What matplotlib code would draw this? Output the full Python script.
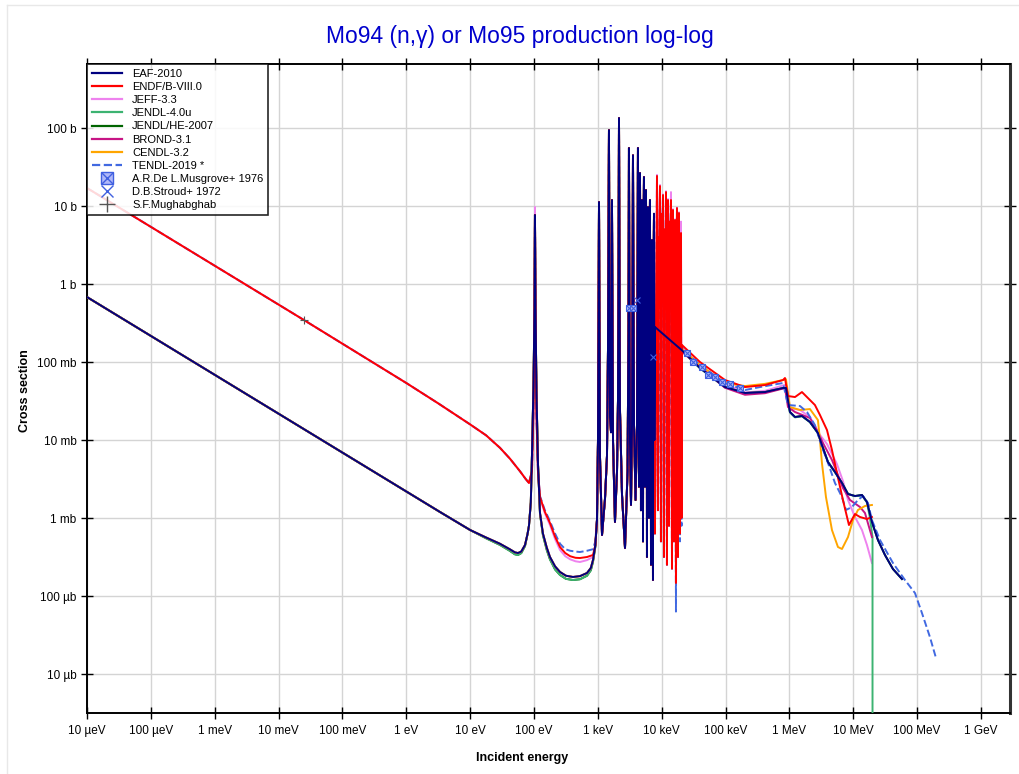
import numpy as np
import matplotlib.pyplot as plt
from matplotlib.lines import Line2D
from matplotlib.legend_handler import HandlerTuple
from matplotlib.ticker import FixedLocator, NullLocator

plt.rcParams['font.family'] = ['Liberation Sans', 'DejaVu Sans']

# values as (log10 E[eV], log10 sigma[b])

# thermal + 100 eV resonance
red_low = [(-5.0, 1.231), (-1.602, -0.462), (0.0, -1.269), (0.5, -1.53), (1.0, -1.80),
           (1.25, -1.94), (1.467, -2.10), (1.624, -2.24), (1.780, -2.40), (1.87, -2.50),
           (1.921, -2.551), (1.968, -2.40), (1.992, -1.6),
           (2.008, -0.3), (2.015, 0.885), (2.023, -0.3), (2.039, -1.7), (2.062, -2.4),
           (2.094, -2.731), (2.17, -2.92), (2.250, -3.064), (2.33, -3.24), (2.407, -3.372),
           (2.49, -3.45), (2.567, -3.49), (2.650, -3.51), (2.720, -3.513),
           (2.830, -3.50), (2.924, -3.474), (2.96, -3.35), (2.986, -3.026)]
jeff_low = [(-5.0, 1.231), (-1.602, -0.462), (0.0, -1.269), (0.5, -1.53), (1.0, -1.80),
            (1.25, -1.94), (1.467, -2.10), (1.624, -2.24), (1.780, -2.40), (1.87, -2.50),
            (1.921, -2.551), (1.968, -2.40), (1.992, -1.6),
            (2.008, -0.3), (2.015, 0.987), (2.023, -0.3), (2.039, -1.7), (2.062, -2.4),
            (2.094, -2.75), (2.17, -2.94), (2.250, -3.09), (2.33, -3.27), (2.407, -3.41),
            (2.49, -3.49), (2.567, -3.53), (2.650, -3.555), (2.720, -3.564),
            (2.830, -3.54), (2.924, -3.50), (2.96, -3.37), (2.986, -3.026)]
tendl_low = [(-5.0, 1.231), (-1.602, -0.462), (0.0, -1.269), (0.5, -1.53), (1.0, -1.80),
             (1.25, -1.94), (1.467, -2.10), (1.624, -2.24), (1.780, -2.40), (1.87, -2.50),
             (1.921, -2.551), (1.968, -2.40), (1.992, -1.6),
             (2.008, -0.3), (2.015, 0.885), (2.023, -0.3), (2.039, -1.7), (2.062, -2.4),
             (2.094, -2.72), (2.17, -2.90), (2.250, -3.04), (2.33, -3.20), (2.407, -3.33),
             (2.49, -3.40), (2.567, -3.42), (2.650, -3.43), (2.720, -3.436),
             (2.830, -3.42), (2.924, -3.40), (2.96, -3.30), (2.986, -3.026)]
navy_low = [(-5.0, -0.167), (0.528, -2.923), (1.0, -3.154), (1.25, -3.25), (1.467, -3.33),
            (1.62, -3.40), (1.70, -3.44), (1.749, -3.449), (1.80, -3.43), (1.859, -3.346),
            (1.90, -3.2), (1.921, -3.1), (1.950, -2.8), (1.968, -2.2), (1.992, -1.3),
            (2.008, -0.3), (2.015, 0.885), (2.023, -0.3), (2.039, -1.4), (2.062, -2.3),
            (2.094, -2.936), (2.14, -3.2), (2.20, -3.38), (2.250, -3.500), (2.33, -3.62),
            (2.407, -3.692), (2.50, -3.74), (2.610, -3.756), (2.72, -3.745), (2.830, -3.705),
            (2.89, -3.64), (2.924, -3.538), (2.96, -3.35), (2.986, -3.026)]
jendl_low = [(-5.0, -0.167), (0.528, -2.923), (1.0, -3.154), (1.25, -3.26), (1.467, -3.345),
             (1.62, -3.42), (1.70, -3.465), (1.749, -3.474), (1.80, -3.45), (1.859, -3.36),
             (1.90, -3.2), (1.921, -3.1), (1.950, -2.8), (1.968, -2.2), (1.992, -1.3),
             (2.008, -0.3), (2.015, 0.885), (2.023, -0.3), (2.039, -1.4), (2.062, -2.3),
             (2.094, -2.95), (2.14, -3.22), (2.20, -3.41), (2.250, -3.53), (2.33, -3.66),
             (2.407, -3.73), (2.50, -3.78), (2.610, -3.795), (2.72, -3.785), (2.830, -3.74),
             (2.89, -3.67), (2.924, -3.56), (2.96, -3.37), (2.986, -3.026)]

# resolved resonances 1 - 8 keV
res_kev = [(3.002, -2.0), (3.010, -0.5), (3.018, 1.051), (3.025, -0.5), (3.033, -2.2),
           (3.065, -3.218), (3.112, -2.75), (3.143, -2.2), (3.159, -0.8), (3.174, 1.974),
           (3.182, -0.3), (3.190, -1.7), (3.206, -1.9), (3.214, -0.5), (3.221, 1.077),
           (3.229, -0.5), (3.237, -2.0), (3.268, -3.051), (3.300, -2.4), (3.315, -1.5),
           (3.323, 0.0), (3.331, 2.128), (3.339, 0.0), (3.346, -1.6), (3.378, -2.7),
           (3.425, -3.385), (3.465, -2.4), (3.480, -0.5), (3.487, 1.744), (3.495, -0.5),
           (3.503, -2.0), (3.519, -2.833), (3.535, -1.8), (3.543, 0.0), (3.550, 1.65),
           (3.558, 0.0), (3.566, -1.8), (3.590, -2.769), (3.613, -1.8), (3.621, 0.0),
           (3.628, 1.744), (3.636, -0.5), (3.644, -2.6), (3.648, 0.2), (3.652, -1.5),
           (3.656, 0.8), (3.660, 1.423), (3.664, -0.5), (3.668, -2.0), (3.672, 0.5),
           (3.675, -2.9), (3.679, 0.0), (3.683, -1.0), (3.687, 0.6), (3.691, 1.077),
           (3.695, -0.8), (3.699, -2.2), (3.703, 0.3), (3.707, -3.3), (3.711, 0.4),
           (3.714, -1.0), (3.718, 0.9), (3.722, 1.372), (3.726, -0.5), (3.730, -2.0),
           (3.734, 0.6), (3.738, -2.6), (3.742, 0.2), (3.746, -1.2), (3.750, 0.7),
           (3.754, 1.205), (3.758, -0.7), (3.762, -2.3), (3.766, 0.4), (3.769, -3.5),
           (3.773, 0.1), (3.777, -1.0), (3.781, 0.6), (3.785, 0.987), (3.789, -0.6),
           (3.793, -2.4), (3.797, 0.3), (3.801, -3.0), (3.805, 0.2), (3.808, -1.1),
           (3.812, 0.6), (3.816, 1.077), (3.820, -0.5), (3.824, -2.5), (3.828, 0.0),
           (3.832, -3.6), (3.836, -0.2), (3.840, -1.5), (3.844, 0.2), (3.848, 0.564),
           (3.851, -1.0), (3.855, -2.5), (3.859, -0.5), (3.863, -3.795), (3.867, -0.5),
           (3.871, -1.8), (3.875, 0.4), (3.879, 0.9), (3.883, -0.5), (3.886, -2.0)]

# 8 - 20 keV resonances (ENDF, JEFF, TENDL)
endf_res = [(3.894, -3.2), (3.918, 0.2), (3.926, 1.385), (3.933, -0.5), (3.941, -2.9),
            (3.949, 0.6), (3.957, -0.3), (3.965, 0.8), (3.973, 1.256), (3.980, -1.0),
            (3.988, -3.3), (3.996, 0.9), (4.004, 0.436), (4.012, 0.6), (4.020, 1.141),
            (4.027, -1.2), (4.035, -3.5), (4.043, 0.7), (4.051, -0.3), (4.059, 0.5),
            (4.067, 1.179), (4.074, -1.0), (4.082, -3.6), (4.090, 0.5), (4.098, 1.077),
            (4.106, -0.6), (4.114, -3.1), (4.122, 0.8), (4.129, 0.308), (4.137, 0.6),
            (4.145, 1.077), (4.153, -1.0), (4.161, -3.65), (4.169, 0.4), (4.176, 0.949),
            (4.184, -0.8), (4.192, -3.3), (4.200, 0.5), (4.208, 0.821), (4.216, -1.2),
            (4.223, -3.833), (4.231, 0.3), (4.239, 0.974), (4.247, -0.9), (4.255, -3.5),
            (4.262, 0.4), (4.270, 0.910), (4.278, -1.0), (4.286, -3.2), (4.294, 0.2),
            (4.302, 0.654), (4.310, -3.0)]
jeff_res = [(3.894, -3.2), (3.918, 0.2), (3.926, 1.40), (3.933, -0.5), (3.941, -2.9),
            (3.949, 0.6), (3.957, -0.3), (3.965, 0.8), (3.973, 1.27), (3.980, -1.0),
            (3.988, -3.3), (3.996, 0.9), (4.004, 0.436), (4.012, 0.6), (4.020, 1.15),
            (4.027, -1.2), (4.035, -3.5), (4.043, 0.7), (4.051, -0.3), (4.059, 0.5),
            (4.067, 1.19), (4.074, -1.0), (4.082, -3.6), (4.090, 0.5), (4.098, 1.09),
            (4.106, -0.6), (4.114, -3.1), (4.122, 0.8), (4.129, 0.308), (4.137, 0.6),
            (4.145, 1.179), (4.153, -1.0), (4.161, -3.65), (4.169, 0.4), (4.176, 0.96),
            (4.184, -0.8), (4.192, -3.3), (4.200, 0.5), (4.208, 0.83), (4.216, -1.2),
            (4.223, -3.85), (4.231, 0.3), (4.239, 0.98), (4.247, -0.9), (4.255, -3.5),
            (4.262, 0.4), (4.270, 0.92), (4.278, -1.0), (4.286, -3.2), (4.294, 0.2),
            (4.302, 0.80), (4.310, -3.0)]
tendl_res = [(3.894, -3.2), (3.926, 1.38), (3.941, -2.9), (3.957, -0.3), (3.973, 1.25),
             (3.988, -3.3), (4.004, 0.436), (4.020, 1.14), (4.035, -3.5), (4.051, -0.3),
             (4.067, 1.17), (4.082, -3.6), (4.098, 1.07), (4.114, -3.1), (4.129, 0.308),
             (4.145, 1.07), (4.161, -3.65), (4.176, 0.94), (4.192, -3.3), (4.208, 0.81),
             (4.223, -4.2), (4.239, 0.96), (4.255, -3.5), (4.270, 0.90), (4.286, -3.3),
             (4.302, -0.3), (4.310, -3.1)]

# fast region
eaf_fast = [(3.894, -0.551), (4.317, -0.85), (4.599, -1.077), (4.991, -1.321), (5.304, -1.397),
            (5.617, -1.385), (5.899, -1.333), (5.946, -1.333), (6.008, -1.641), (6.087, -1.705),
            (6.196, -1.692), (6.321, -1.769), (6.446, -1.910), (6.509, -2.064), (6.603, -2.282),
            (6.713, -2.410), (6.823, -2.551), (6.917, -2.692), (7.026, -2.718), (7.136, -2.705),
            (7.214, -2.795), (7.292, -3.051), (7.386, -3.282), (7.496, -3.474), (7.621, -3.654),
            (7.762, -3.782)]
endf_fast = [(4.317, -0.782), (4.599, -1.0), (4.991, -1.231), (5.304, -1.321), (5.617, -1.295),
             (5.899, -1.231), (5.930, -1.205), (5.977, -1.436), (6.087, -1.449), (6.196, -1.385),
             (6.321, -1.487), (6.399, -1.551), (6.478, -1.679), (6.588, -1.872), (6.666, -2.128),
             (6.744, -2.423), (6.838, -2.769), (6.932, -3.090), (7.026, -2.949), (7.105, -2.987),
             (7.214, -3.013), (7.292, -2.987)]
jeff_fast = [(4.317, -0.80), (4.599, -1.05), (4.991, -1.28), (5.304, -1.39), (5.617, -1.37),
             (5.899, -1.30), (5.946, -1.29), (6.008, -1.590), (6.165, -1.615), (6.321, -1.705),
             (6.478, -1.936), (6.588, -2.051), (6.744, -2.308), (6.838, -2.526), (6.917, -2.769),
             (7.026, -2.987), (7.136, -3.154), (7.214, -3.346), (7.292, -3.577)]
tendl_fast = [(4.317, -0.82), (4.599, -1.038), (4.991, -1.27), (5.304, -1.359), (5.539, -1.321),
              (5.899, -1.269), (5.977, -1.551), (6.165, -1.564), (6.275, -1.641), (6.399, -1.808),
              (6.509, -2.090), (6.588, -2.256), (6.713, -2.551), (6.823, -2.731), (6.885, -2.897),
              (6.979, -2.859), (7.073, -2.769), (7.152, -2.718), (7.230, -2.808), (7.292, -3.026),
              (7.418, -3.282), (7.621, -3.577), (7.809, -3.795), (7.966, -3.962), (8.075, -4.218),
              (8.200, -4.526), (8.295, -4.795)]
jendl_fast = [(3.894, -0.56), (4.317, -0.86), (4.599, -1.08), (4.991, -1.325), (5.304, -1.40),
              (5.617, -1.39), (5.899, -1.335), (5.946, -1.335), (6.008, -1.645), (6.087, -1.71),
              (6.196, -1.695), (6.321, -1.77), (6.446, -1.91), (6.509, -2.064), (6.603, -2.282),
              (6.713, -2.41), (6.823, -2.551), (6.917, -2.692), (7.026, -2.72), (7.136, -2.71),
              (7.214, -2.80), (7.261, -3.0), (7.301, -3.244), (7.3011, -12.0)]
jendlhe_fast = eaf_fast
brond_fast = [(3.894, -0.56), (4.317, -0.87), (4.599, -1.06), (4.991, -1.33), (5.304, -1.42),
              (5.617, -1.40), (5.930, -1.333), (5.977, -1.577), (6.087, -1.641), (6.321, -1.718),
              (6.430, -1.872), (6.525, -2.038), (6.666, -2.256), (6.760, -2.449), (6.838, -2.615),
              (6.948, -2.769), (7.105, -2.859), (7.183, -2.936), (7.261, -3.154), (7.292, -3.244)]
cendl_fast = [(3.894, -0.55), (4.317, -0.83), (4.599, -1.038), (4.991, -1.27), (5.304, -1.308),
              (5.617, -1.28), (5.899, -1.231), (5.946, -1.22), (6.008, -1.577), (6.165, -1.615),
              (6.321, -1.603), (6.446, -1.744), (6.478, -2.0), (6.509, -2.295), (6.572, -2.731),
              (6.666, -3.154), (6.760, -3.372), (6.823, -3.397), (6.917, -3.244), (6.995, -3.026),
              (7.073, -2.897), (7.183, -2.846), (7.292, -2.833)]

# experimental points
musgrove = [(3.487, -0.308), (3.550, -0.308), (4.395, -0.885), (4.489, -1.0), (4.629, -1.064),
            (4.724, -1.167), (4.834, -1.192), (4.943, -1.256), (5.069, -1.282), (5.225, -1.333)]
stroud = [(3.613, -0.205), (3.863, -0.936)]
mughabghab = [(-1.602, -0.462)]

xtick_labels = ['10 µeV', '100 µeV', '1 meV', '10 meV', '100 meV', '1 eV', '10 eV', '100 eV',
                '1 keV', '10 keV', '100 keV', '1 MeV', '10 MeV', '100 MeV', '1 GeV']
ytick_labels = ['10 µb', '100 µb', '1 mb', '10 mb', '100 mb', '1 b', '10 b', '100 b']


def xy(*parts):
    a = np.array([p for part in parts for p in part])
    return 10.0 ** a[:, 0], 10.0 ** a[:, 1]


series = [
    # label, data, colour, style, zorder
    ('EAF-2010', xy(navy_low, res_kev, eaf_fast), '#000080', '-', 9),
    ('ENDF/B-VIII.0', xy(red_low, res_kev, endf_res, endf_fast), '#ff0000', '-', 8),
    ('JEFF-3.3', xy(jeff_low, res_kev, jeff_res, jeff_fast), '#ee82ee', '-', 3),
    ('JENDL-4.0u', xy(jendl_low, res_kev, jendl_fast), '#3cb371', '-', 5),
    ('JENDL/HE-2007', xy(jendl_low, res_kev, jendlhe_fast), '#006400', '-', 4),
    ('BROND-3.1', xy(navy_low, res_kev, brond_fast), '#c71585', '-', 6),
    ('CENDL-3.2', xy(navy_low, res_kev, cendl_fast), '#ffa500', '-', 7),
    ('TENDL-2019 *', xy(tendl_low, res_kev, tendl_res, tendl_fast), '#4169e1', '--', 7.5),
]

fig = plt.figure(figsize=(10.2, 7.74), dpi=100)
ax = fig.add_axes([87 / 1020, 1 - 713 / 774, 923 / 1020, 649 / 774])

handles = []
for label, (x, y), color, ls, z in series:
    ax.plot(x, y, color=color, ls=ls, lw=1.4, zorder=z)
    handles.append(Line2D([], [], color=color, ls=ls, lw=1.6, label=label))

mx, my = xy(musgrove)
ax.plot(mx, my, ls='none', marker='s', ms=5, mfc='#b0b8f8', mec='#4060e0', mew=0.8, zorder=10)
ax.plot(mx, my, ls='none', marker='x', ms=5, mec='#4060e0', mew=0.8, zorder=10)
sx, sy = xy(stroud)
ax.plot(sx, sy, ls='none', marker='x', ms=5, mec='#4060e0', mew=0.8, zorder=10)
gx, gy = xy(mughabghab)
ax.plot(gx, gy, ls='none', marker='+', ms=6, mec='#555555', mew=0.8, zorder=10)

h_box = Line2D([], [], ls='none', marker='s', ms=9, mfc='#b0b8f8', mec='#4060e0', mew=1)
h_x = Line2D([], [], ls='none', marker='x', ms=9, mec='#4060e0', mew=1)
handles.append((h_box, h_x))
handles.append(Line2D([], [], ls='none', marker='x', ms=9, mec='#4060e0', mew=1))
handles.append(Line2D([], [], ls='none', marker='+', ms=11, mec='#555555', mew=1))
labels = [s[0] for s in series] + ['A.R.De L.Musgrove+ 1976', 'D.B.Stroud+ 1972', 'S.F.Mughabghab']

ax.set_xscale('log')
ax.set_yscale('log')
ax.set_xlim(1e-5, 10 ** 9.454)
ax.set_ylim(10 ** -5.5, 10 ** 2.821)

ax.xaxis.set_major_locator(FixedLocator(10.0 ** np.arange(-5, 10)))
ax.xaxis.set_minor_locator(NullLocator())
ax.set_xticklabels(xtick_labels)
ax.yaxis.set_major_locator(FixedLocator(10.0 ** np.arange(-5, 3)))
ax.yaxis.set_minor_locator(NullLocator())
ax.set_yticklabels(ytick_labels)

ax.grid(True, color='#d4d4d4', lw=1)
ax.set_axisbelow(True)
ax.tick_params(axis='both', labelsize=8.5, colors='black')
ax.tick_params(axis='x', direction='inout', length=9, width=1, pad=4)
ax.tick_params(axis='y', direction='inout', length=9, width=1, pad=3)
ax.tick_params(top=True, right=True, which='major')
for sp in ['left', 'bottom', 'top']:
    ax.spines[sp].set_linewidth(1.4)
    ax.spines[sp].set_color('black')
ax.spines['right'].set_linewidth(2.2)
ax.spines['right'].set_color('#333333')

leg = ax.legend(handles, labels, handler_map={tuple: HandlerTuple(ndivide=1)},
                loc='upper left', bbox_to_anchor=(0, 1), borderaxespad=0, fontsize=8,
                frameon=True, fancybox=False, framealpha=0.85, edgecolor='black',
                handlelength=2.7, handletextpad=0.9, labelspacing=0.28, borderpad=0.45)
leg.get_frame().set_linewidth(1.2)
leg.set_zorder(20)

fig.text(0.51, 0.953, 'Mo94 (n,\u03b3) or Mo95 production log-log', ha='center', va='center',
         fontsize=16.5, color='#0000cd')
fig.text(522 / 1020, 1 - 758 / 774, 'Incident energy', ha='center', va='center',
         fontsize=9, fontweight='bold')
fig.text(25 / 1020, 1 - 391 / 774, 'Cross section', ha='center', va='center',
         fontsize=9, fontweight='bold', rotation=90)

fig.add_artist(Line2D([7 / 1020, 7 / 1020], [0, 1 - 5 / 774], color='#e8e8e8', lw=1))
fig.add_artist(Line2D([7 / 1020, 1], [1 - 5 / 774, 1 - 5 / 774], color='#e8e8e8', lw=1))

fig.savefig('out.png', dpi=100)
